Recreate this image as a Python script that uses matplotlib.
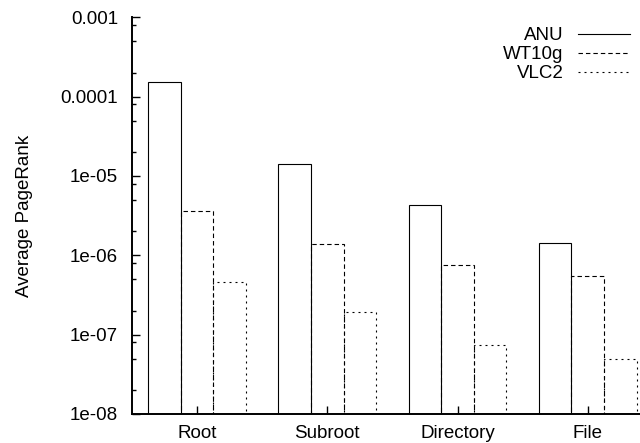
import matplotlib
matplotlib.use('Agg')
import matplotlib.pyplot as plt
import numpy as np
from matplotlib.lines import Line2D
from matplotlib.ticker import LogLocator, FuncFormatter, NullFormatter

plt.rcParams['font.family'] = ['Liberation Sans', 'DejaVu Sans']

categories = ['Root', 'Subroot', 'Directory', 'File']
series = ['ANU', 'WT10g', 'VLC2']
anu = [1.51e-4, 1.41e-5, 4.34e-6, 1.44e-6]
wt10g = [3.57e-6, 1.39e-6, 7.48e-7, 5.50e-7]
vlc2 = [4.61e-7, 1.91e-7, 7.45e-8, 5.0e-8]

ymin, ymax = 1e-8, 1e-3
lw = 0.8
fs = 13.5
styles = ['-', (0, (4.0, 2.7)), (0, (1.8, 3.6))]

fig = plt.figure(figsize=(6.4, 4.43), dpi=100)
ax = fig.add_axes([132 / 640, 29 / 443, 520.8 / 640, 396.7 / 443])

x = np.arange(len(categories))
width = 0.25
handles = []
for i, (name, vals) in enumerate(zip(series, [anu, wt10g, vlc2])):
    vals = np.array(vals)
    ax.bar(x + (i - 1) * width, vals - ymin, bottom=ymin, width=width,
           facecolor='none', edgecolor='black', linewidth=lw,
           linestyle=styles[i])
    handles.append(Line2D([], [], color='black', linewidth=lw,
                          linestyle=styles[i], label=name))

ax.set_yscale('log')
ax.set_ylim(ymin, ymax)
ax.set_xlim(-0.5, 3.5)

ax.yaxis.set_major_locator(LogLocator(base=10, numticks=10))
ax.yaxis.set_minor_locator(LogLocator(base=10, subs=(2, 5, 8), numticks=10))
ax.yaxis.set_major_formatter(FuncFormatter(lambda v, p: '%g' % v))
ax.yaxis.set_minor_formatter(NullFormatter())

ax.set_xticks(x)
ax.set_xticklabels(categories)

for s in ['top', 'right']:
    ax.spines[s].set_visible(False)
for s in ['left', 'bottom']:
    ax.spines[s].set_linewidth(1.4)

ax.tick_params(axis='both', which='major', direction='in', length=6,
               width=1.0, labelsize=fs)
ax.tick_params(axis='y', which='major', pad=10)
ax.tick_params(axis='x', which='major', pad=8)
ax.tick_params(axis='y', which='minor', direction='in', length=3, width=1.0)

ax.set_ylabel('Average PageRank', fontsize=fs)
ax.yaxis.set_label_coords(-0.19, 0.5)

leg = ax.legend(handles=handles, loc='upper right', frameon=False,
                markerfirst=False, fontsize=fs, handlelength=2.8,
                handletextpad=0.75, labelspacing=0.1, borderpad=0,
                borderaxespad=0,
                bbox_to_anchor=(630 / 640, (443 - 27) / 443),
                bbox_transform=fig.transFigure)

fig.savefig('out.png', dpi=100)
